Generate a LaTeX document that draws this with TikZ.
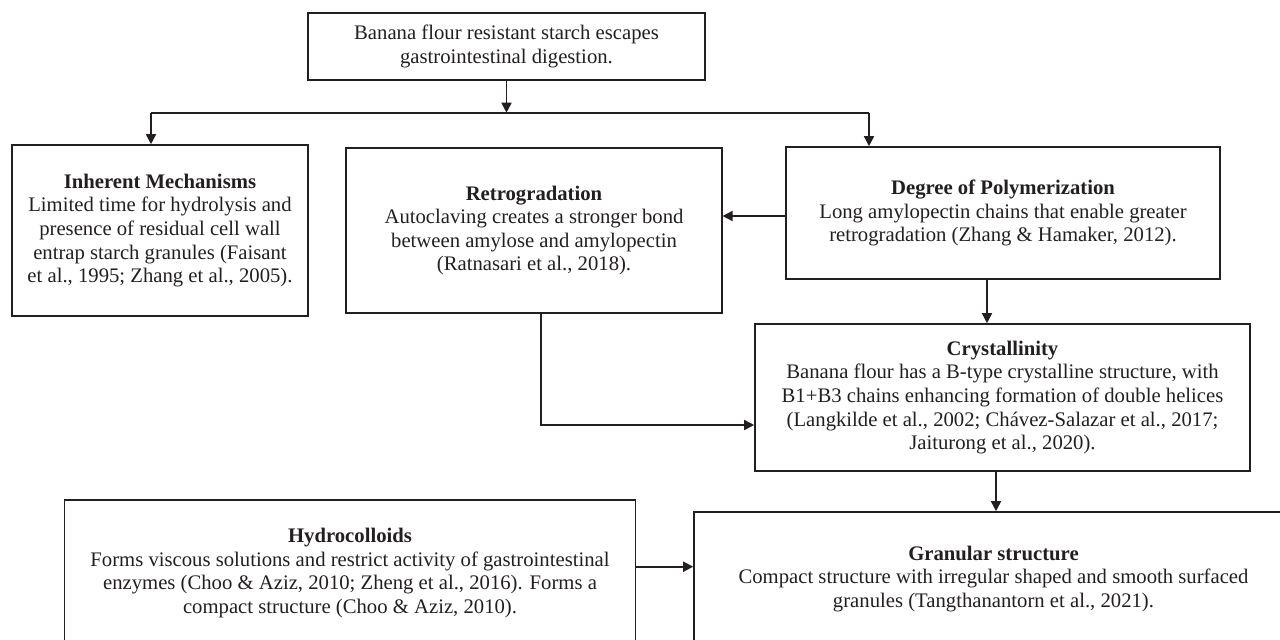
\documentclass[tikz,border=0pt]{standalone}
\usepackage{fontspec}
\setmainfont{Liberation Serif}
\usetikzlibrary{arrows.meta,calc}
\definecolor{ink}{HTML}{231F20}
\begin{document}
\begin{tikzpicture}[x=1pt,y=-1pt,
  box/.style={draw=ink,line width=1.6pt,rectangle,inner sep=0pt,align=center,
    text=ink,font=\fontsize{20.7}{23.6}\selectfont,anchor=center},
  arr/.style={draw=ink,line width=1.6pt,-{Triangle[length=10pt,width=10pt]}},
  ln/.style={draw=ink,line width=1.6pt}]
\useasboundingbox (0,0) rectangle (1280,640);
\clip (0,0) rectangle (1280,640);
\node[box,minimum width=397pt,minimum height=67pt] (top) at (506.5,46.5)
  {Banana flour resistant starch escapes\\gastrointestinal digestion.};
\node[box,minimum width=296pt,minimum height=171pt] (inh) at (160,230.5)
  {\textbf{Inherent Mechanisms}\\Limited time for hydrolysis and\\presence of residual cell wall\\entrap starch granules (Faisant\\et al., 1995; Zhang et al., 2005).};
\node[box,minimum width=375.5pt,minimum height=165pt] (retro) at (534,230.5)
  {\textbf{Retrogradation}\\Autoclaving creates a stronger bond\\between amylose and amylopectin\\(Ratnasari et al., 2018).};
\node[box,minimum width=434pt,minimum height=132pt] (dp) at (1003,213)
  {\textbf{Degree of Polymerization}\\Long amylopectin chains that enable greater\\retrogradation (Zhang \& Hamaker, 2012).};
\node[box,minimum width=495pt,minimum height=147pt] (cry) at (1002.5,397.5)
  {\textbf{Crystallinity}\\Banana flour has a B-type crystalline structure, with\\B1+B3 chains enhancing formation of double helices\\(Langkilde et al., 2002; Chávez-Salazar et al., 2017;\\Jaiturong et al., 2020).};
\node[box,minimum width=599pt,minimum height=134pt] (gran) at (993.5,579)
  {\textbf{Granular structure}\\Compact structure with irregular shaped and smooth surfaced\\granules (Tangthanantorn et al., 2021).};
\node[box,minimum width=571pt,minimum height=146pt] (hydro) at (350,573)
  {\textbf{Hydrocolloids}\\Forms viscous solutions and restrict activity of gastrointestinal\\enzymes (Choo \& Aziz, 2010; Zheng et al., 2016). Forms a\\compact structure (Choo \& Aziz, 2010).};
% connectors
\coordinate (j) at (506.5,112.7);
\coordinate (jl) at (151,112.7);
\coordinate (jr) at (869,112.7);
\draw[arr] (top.south) -- (j);
\draw[ln] (jl) -- (jr);
\draw[arr] (jl) -- (jl |- inh.north);
\draw[arr] (jr) -- (jr |- dp.north);
\draw[arr] ([yshift=-3pt]dp.west) -- ([yshift=-3pt]dp.west -| retro.east);
\draw[arr] ([xshift=-16pt]dp.south) -- ([xshift=-16pt]dp.south |- cry.north);
\draw[arr] ([xshift=7pt]retro.south) |- ([yshift=-27.5pt]cry.west);
\draw[arr] ([xshift=-6.5pt]cry.south) -- ([xshift=-6.5pt]cry.south |- gran.north);
\draw[arr] ([yshift=6.3pt]hydro.east) -- ([yshift=6.3pt]hydro.east -| gran.west);
\end{tikzpicture}
\end{document}
